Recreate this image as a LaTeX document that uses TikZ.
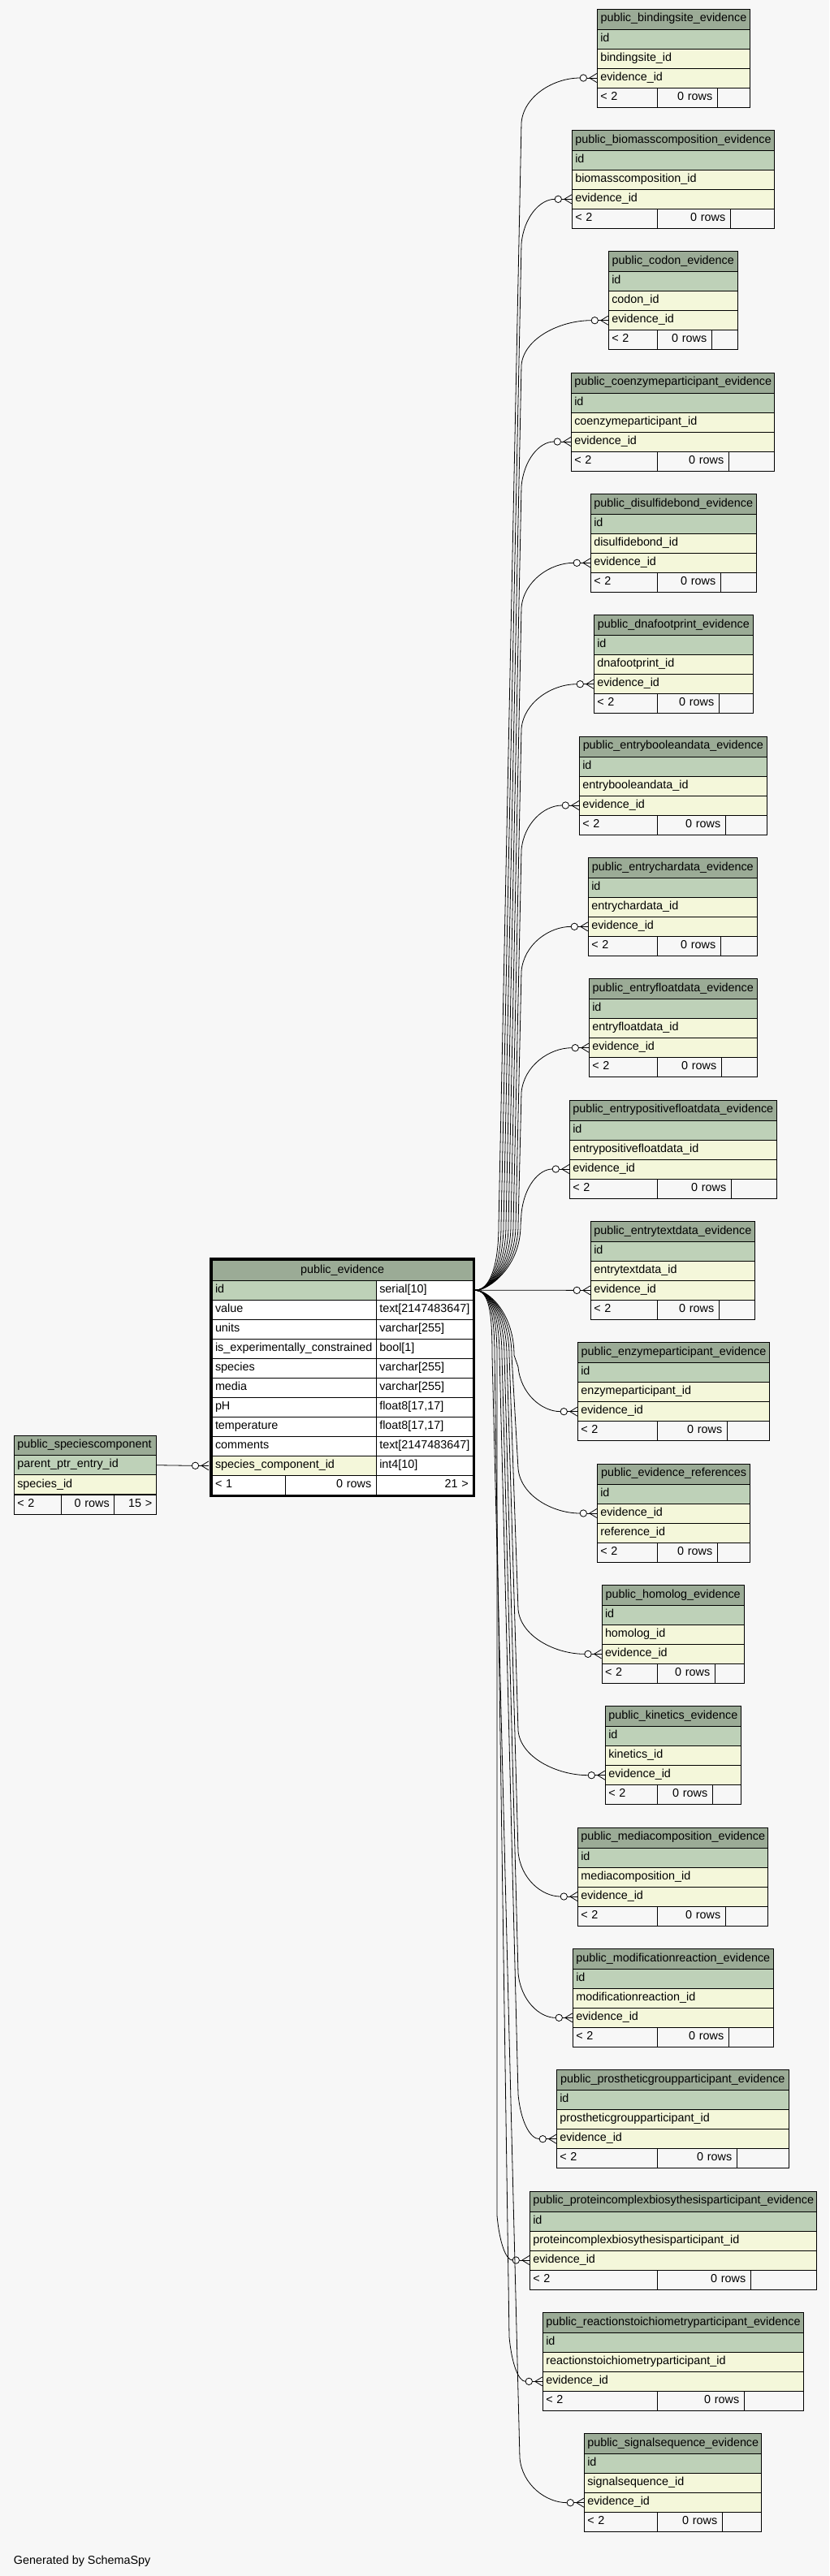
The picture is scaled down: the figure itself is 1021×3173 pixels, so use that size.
\documentclass[tikz,border=0pt]{standalone}
\usepackage{fontspec}
\setmainfont{Liberation Sans}
\usetikzlibrary{calc}
\definecolor{hdr}{HTML}{9BAB96}
\definecolor{pk}{HTML}{BED1B8}
\definecolor{fk}{HTML}{F4F7DA}
\definecolor{bgc}{HTML}{F7F7F7}
\newcommand\tblfont{\fontsize{14.37pt}{17pt}\selectfont}
\tikzset{
 cell/.style={draw=black,line width=1pt,inner xsep=4pt,inner ysep=0pt,minimum height=24pt,text height=10pt,text depth=3.6pt,font=\tblfont},
 conn/.style={draw=black,line width=0.8pt},
}
\newcommand\crowmark[2]{%
 \coordinate (#2) at ($(#1)+(-20.7,0)$);
 \draw[conn] ($(#1)+(-12.3,0)$) -- (#1);
 \draw[conn] ($(#1)+(-9,0)$) -- ($(#1)+(0,-5.5)$);
 \draw[conn] ($(#1)+(-9,0)$) -- ($(#1)+(0,5.5)$);
 \draw[conn,fill=white] ($(#1)+(-16.5,0)$) circle[radius=4.2pt];
}
\newcommand\rtab[9]{%
 \pgfmathsetmacro\tT{11+149.333*#2}
 \pgfmathsetmacro\tW{#4-#3}
 \pgfmathsetmacro\tTW{#4-#3-8}
 \pgfmathsetmacro\tC{(#3+#4)/2}
 \pgfmathsetmacro\fWa{809-#3}
 \pgfmathsetmacro\fTa{809-#3-8}
 \pgfmathsetmacro\fCa{(809+#3)/2}
 \pgfmathsetmacro\fWb{#5-809}
 \pgfmathsetmacro\fTb{#5-809-12}
 \pgfmathsetmacro\fCb{(809+#5)/2}
 \pgfmathsetmacro\fWc{#4-#5}
 \pgfmathsetmacro\fCc{(#4+#5)/2}
 \node[cell,fill=hdr,minimum height=25pt,minimum width=\tW pt,text width=\tTW pt,align=center] (#1-t) at (\tC,\tT+12.5) {#6};
 \node[cell,fill=pk,minimum width=\tW pt,text width=\tTW pt,align=left] (#1-r1) at (\tC,\tT+37) {id};
 \node[cell,fill=fk,minimum width=\tW pt,text width=\tTW pt,align=left] (#1-r2) at (\tC,\tT+61) {#7};
 \node[cell,fill=fk,minimum width=\tW pt,text width=\tTW pt,align=left] (#1-r3) at (\tC,\tT+85) {#8};
 \node[cell,fill=bgc,minimum width=\fWa pt,text width=\fTa pt,align=left] (#1-f1) at (\fCa,\tT+109) {< 2};
 \node[cell,fill=bgc,inner xsep=6pt,minimum width=\fWb pt,text width=\fTb pt,align=right] (#1-f2) at (\fCb,\tT+109) {0 rows};
 \node[cell,fill=bgc,minimum width=\fWc pt] (#1-f3) at (\fCc,\tT+109) {};
 \coordinate (#1-edge) at (#1-#9.west);
 \crowmark{#1-edge}{#1-in}
}
\newcommand\conn[7]{%
 \pgfmathsetmacro\qy{11+149.333*#2+#4}
 \pgfmathsetmacro\qx{#3-20.7}
 \pgfmathsetmacro\qya{1589.3+80*(#7)}
 \pgfmathsetmacro\qyac{1589.3+30*(#7)}
 \pgfmathsetmacro\qyb{\qy-55*(#7)}
 \pgfmathsetmacro\qybc{\qy-22*(#7)}
 \pgfmathsetmacro\qxc{\qx-0.45*(\qx-#6)}
 \pgfmathsetmacro\qxbc{#6+3}
 \draw[conn] (hub) .. controls +(18,0) and (#5,\qyac) .. (#5,\qya) -- (#6,\qyb) .. controls (\qxbc,\qybc) and (\qxc,\qy) .. (#1-in);
}
\begin{document}
\begin{tikzpicture}[x=1pt,y=-1pt]
\useasboundingbox (0,0) rectangle (1021,3173);
\fill[bgc] (0,0) rectangle (1021,3173);

% main table
\node[cell,fill=hdr,minimum height=25pt,minimum width=321.3pt,text width=313.3pt,align=center] (m-title) at (421.65,1564.8) {public\_evidence};
\node[cell,fill=pk,minimum width=202.3pt,text width=194.3pt,align=left] (m-n0) at (362.15,1589.3) {id};
\node[cell,fill=white,minimum width=119pt,text width=111pt,align=left] (m-t0) at (522.8,1589.3) {serial[10]};
\node[cell,fill=white,minimum width=202.3pt,text width=194.3pt,align=left] (m-n1) at (362.15,1613.3) {value};
\node[cell,fill=white,minimum width=119pt,text width=111pt,align=left] (m-t1) at (522.8,1613.3) {text[2147483647]};
\node[cell,fill=white,minimum width=202.3pt,text width=194.3pt,align=left] (m-n2) at (362.15,1637.3) {units};
\node[cell,fill=white,minimum width=119pt,text width=111pt,align=left] (m-t2) at (522.8,1637.3) {varchar[255]};
\node[cell,fill=white,minimum width=202.3pt,text width=194.3pt,align=left] (m-n3) at (362.15,1661.3) {is\_experimentally\_constrained};
\node[cell,fill=white,minimum width=119pt,text width=111pt,align=left] (m-t3) at (522.8,1661.3) {bool[1]};
\node[cell,fill=white,minimum width=202.3pt,text width=194.3pt,align=left] (m-n4) at (362.15,1685.3) {species};
\node[cell,fill=white,minimum width=119pt,text width=111pt,align=left] (m-t4) at (522.8,1685.3) {varchar[255]};
\node[cell,fill=white,minimum width=202.3pt,text width=194.3pt,align=left] (m-n5) at (362.15,1709.3) {media};
\node[cell,fill=white,minimum width=119pt,text width=111pt,align=left] (m-t5) at (522.8,1709.3) {varchar[255]};
\node[cell,fill=white,minimum width=202.3pt,text width=194.3pt,align=left] (m-n6) at (362.15,1733.3) {pH};
\node[cell,fill=white,minimum width=119pt,text width=111pt,align=left] (m-t6) at (522.8,1733.3) {float8[17,17]};
\node[cell,fill=white,minimum width=202.3pt,text width=194.3pt,align=left] (m-n7) at (362.15,1757.3) {temperature};
\node[cell,fill=white,minimum width=119pt,text width=111pt,align=left] (m-t7) at (522.8,1757.3) {float8[17,17]};
\node[cell,fill=white,minimum width=202.3pt,text width=194.3pt,align=left] (m-n8) at (362.15,1781.3) {comments};
\node[cell,fill=white,minimum width=119pt,text width=111pt,align=left] (m-t8) at (522.8,1781.3) {text[2147483647]};
\node[cell,fill=fk,minimum width=202.3pt,text width=194.3pt,align=left] (m-n9) at (362.15,1805.3) {species\_component\_id};
\node[cell,fill=white,minimum width=119pt,text width=111pt,align=left] (m-t9) at (522.8,1805.3) {int4[10]};
\node[cell,fill=white,minimum width=90pt,text width=82pt,align=left] (m-f1) at (306,1829.3) {< 1};
\node[cell,fill=white,inner xsep=6pt,minimum width=112.3pt,text width=100.3pt,align=right] (m-f2) at (407.15,1829.3) {0 rows};
\node[cell,fill=white,inner xsep=5.5pt,minimum width=119pt,text width=108pt,align=right] (m-f3) at (522.8,1829.3) {21 >};
\draw[line width=3pt] (259,1550.5) rectangle (583.3,1842.3);
\coordinate (hub) at ($(m-t0.east)+(2.2,0)$);

% species component
\node[cell,fill=hdr,minimum height=24.4pt,minimum width=175pt,text width=167pt,align=left] (sc-t) at (104.8,1780.5) {public\_speciescomponent};
\node[cell,fill=pk,minimum width=175pt,text width=167pt,align=left] (sc-r1) at (104.8,1804.7) {parent\_ptr\_entry\_id};
\node[cell,fill=fk,minimum width=175pt,text width=167pt,align=left] (sc-r2) at (104.8,1828.85) {species\_id};
\node[cell,fill=bgc,minimum width=58.4pt,text width=50.4pt,align=left] (sc-f1) at (46.5,1853) {< 2};
\node[cell,fill=bgc,inner xsep=6pt,minimum width=65pt,text width=53pt,align=right] (sc-f2) at (108.2,1853) {0 rows};
\node[cell,fill=bgc,inner xsep=5pt,minimum width=51.6pt,text width=41.6pt,align=right] (sc-f3) at (166.5,1853) {15 >};
\coordinate (m-edge) at ($(m-n9.west)+(-3.5,0)$);
\crowmark{m-edge}{m-in}
\draw[conn] (sc-r1.east) -- (m-in);

% right tables
\rtab{t0}{0}{735.3}{923.7}{883.3}{public\_bindingsite\_evidence}{bindingsite\_id}{evidence\_id}{r3}
\rtab{t1}{1}{704.3}{953.3}{899.3}{public\_biomasscomposition\_evidence}{biomasscomposition\_id}{evidence\_id}{r3}
\rtab{t2}{2}{749.3}{908.3}{876.3}{public\_codon\_evidence}{codon\_id}{evidence\_id}{r3}
\rtab{t3}{3}{703.3}{953.3}{897.3}{public\_coenzymeparticipant\_evidence}{coenzymeparticipant\_id}{evidence\_id}{r3}
\rtab{t4}{4}{727.3}{931.3}{887.3}{public\_disulfidebond\_evidence}{disulfidebond\_id}{evidence\_id}{r3}
\rtab{t5}{5}{731.3}{927.3}{885.3}{public\_dnafootprint\_evidence}{dnafootprint\_id}{evidence\_id}{r3}
\rtab{t6}{6}{713.3}{944.3}{893.3}{public\_entrybooleandata\_evidence}{entrybooleandata\_id}{evidence\_id}{r3}
\rtab{t7}{7}{724.3}{932.3}{887.3}{public\_entrychardata\_evidence}{entrychardata\_id}{evidence\_id}{r3}
\rtab{t8}{8}{725.3}{932.3}{888.3}{public\_entryfloatdata\_evidence}{entryfloatdata\_id}{evidence\_id}{r3}
\rtab{t9}{9}{701.3}{956.3}{900.3}{public\_entrypositivefloatdata\_evidence}{entrypositivefloatdata\_id}{evidence\_id}{r3}
\rtab{t10}{10}{727.3}{929.3}{885.3}{public\_entrytextdata\_evidence}{entrytextdata\_id}{evidence\_id}{r3}
\rtab{t11}{11}{711.3}{947.7}{895.3}{public\_enzymeparticipant\_evidence}{enzymeparticipant\_id}{evidence\_id}{r3}
\rtab{t12}{12}{735.3}{923.7}{883.3}{public\_evidence\_references}{evidence\_id}{reference\_id}{r2}
\rtab{t13}{13}{741}{916.3}{880.3}{public\_homolog\_evidence}{homolog\_id}{evidence\_id}{r3}
\rtab{t14}{14}{745.3}{912.3}{877.3}{public\_kinetics\_evidence}{kinetics\_id}{evidence\_id}{r3}
\rtab{t15}{15}{711.3}{945.3}{893.3}{public\_mediacomposition\_evidence}{mediacomposition\_id}{evidence\_id}{r3}
\rtab{t16}{16}{705.3}{952.3}{897.3}{public\_modificationreaction\_evidence}{modificationreaction\_id}{evidence\_id}{r3}
\rtab{t17}{17}{685.3}{971.3}{907.3}{public\_prostheticgroupparticipant\_evidence}{prostheticgroupparticipant\_id}{evidence\_id}{r3}
\rtab{t18}{18}{652.3}{1005.7}{924.3}{public\_proteincomplexbiosythesisparticipant\_evidence}{proteincomplexbiosythesisparticipant\_id}{evidence\_id}{r3}
\rtab{t19}{19}{668.3}{989.7}{916.3}{public\_reactionstoichiometryparticipant\_evidence}{reactionstoichiometryparticipant\_id}{evidence\_id}{r3}
\rtab{t20}{20}{719.3}{937.7}{889.3}{public\_signalsequence\_evidence}{signalsequence\_id}{evidence\_id}{r3}

% connectors
\conn{t0}{0}{735.3}{85}{614}{642}{-1}
\conn{t1}{1}{704.3}{85}{617}{642}{-1}
\conn{t2}{2}{749.3}{85}{620}{642}{-1}
\conn{t3}{3}{703.3}{85}{623}{642}{-1}
\conn{t4}{4}{727.3}{85}{626}{642}{-1}
\conn{t5}{5}{731.3}{85}{629}{642}{-1}
\conn{t6}{6}{713.3}{85}{632}{642}{-1}
\conn{t7}{7}{724.3}{85}{635}{642}{-1}
\conn{t8}{8}{725.3}{85}{638}{642}{-1}
\conn{t9}{9}{701.3}{85}{641}{642}{-1}
\draw[conn] (hub) -- (t10-in);
\conn{t11}{11}{711.3}{85}{633}{638}{1}
\conn{t12}{12}{735.3}{61}{630}{638}{1}
\conn{t13}{13}{741}{85}{627}{638}{1}
\conn{t14}{14}{745.3}{85}{624}{638}{1}
\conn{t15}{15}{711.3}{85}{621}{638}{1}
\conn{t16}{16}{705.3}{85}{618}{638}{1}
\conn{t17}{17}{685.3}{85}{615}{638}{1}
\conn{t18}{18}{652.3}{85}{612}{612}{1}
\conn{t19}{19}{668.3}{85}{609}{627}{1}
\conn{t20}{20}{719.3}{85}{606}{640}{1}

\node[anchor=base west,inner sep=0pt,font=\tblfont] (gen) at (16.7,3158.3) {Generated by SchemaSpy};
\end{tikzpicture}
\end{document}
